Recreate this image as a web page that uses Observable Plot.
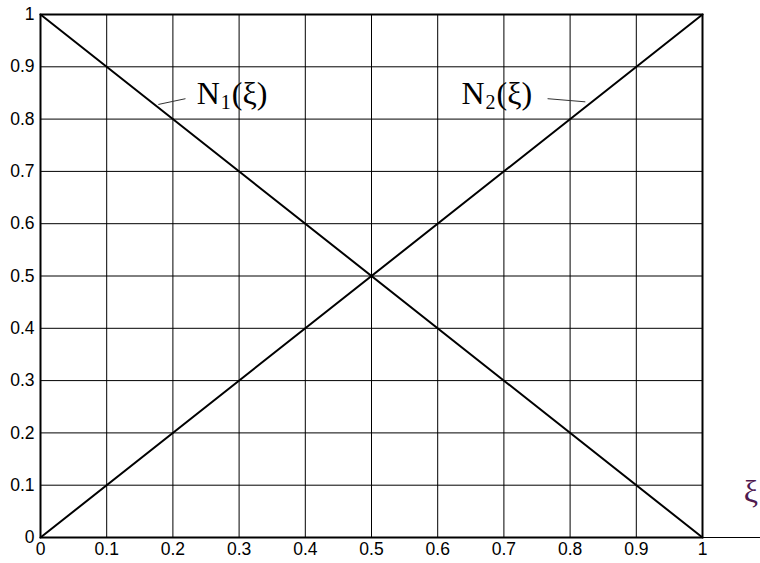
<!DOCTYPE html>
<html>
<head>
<meta charset="utf-8">
<script src="https://cdn.jsdelivr.net/npm/d3@7"></script>
<script src="https://cdn.jsdelivr.net/npm/@observablehq/plot@0.6"></script>
<style>
  html, body { margin: 0; padding: 0; background: #fff; }
  #chart svg { display: block; }
</style>
</head>
<body>
<div id="chart"></div>
<script>
// Linear shape functions on the reference element, xi in [0, 1]
const xi = [0, 1];
const N1 = [1, 0];           // N1(xi) = 1 - xi
const N2 = [0, 1];           // N2(xi) = xi

const tickValues = [0, 0.1, 0.2, 0.3, 0.4, 0.5, 0.6, 0.7, 0.8, 0.9, 1];
const tickLabels = ["0", "0.1", "0.2", "0.3", "0.4", "0.5", "0.6", "0.7", "0.8", "0.9", "1"];

// Curve labels: anchor point (data units) and the short leader line to the curve
const labelNames = ["N1", "N2"];
const labelSubs = ["1", "2"];
const labelX = [0.236, 0.636];
const labelY = [0.848, 0.848];
const leaderX1 = [0.178, 0.766];
const leaderY1 = [0.828, 0.839];
const leaderX2 = [0.219, 0.823];
const leaderY2 = [0.839, 0.833];

// Axis variable symbol, placed past the right end of the xi axis
const axisSymbol = "ξ";
const axisSymbolX = [1.073];
const axisSymbolY = [0.088];
const axisExtendTo = [1.0876];

const curves = xi.flatMap((x, i) => [
  {name: "N1", x, y: N1[i]},
  {name: "N2", x, y: N2[i]}
]);
const labels = labelNames.map((name, i) => ({
  name, sub: labelSubs[i], x: labelX[i], y: labelY[i],
  x1: leaderX1[i], y1: leaderY1[i], x2: leaderX2[i], y2: leaderY2[i]
}));

const serif = "'Liberation Serif', 'Times New Roman', serif";

const chart = Plot.plot({
  width: 760,
  height: 563,
  marginLeft: 40,
  marginRight: 58,
  marginTop: 14,
  marginBottom: 26,
  style: {fontFamily: "'Liberation Sans', Arial, sans-serif", fontSize: "17px", background: "#fff", overflow: "visible"},
  x: {domain: [0, 1]},
  y: {domain: [0, 1]},
  marks: [
    Plot.ruleX(tickValues.slice(1, -1), {stroke: "#000", strokeWidth: 1}),
    Plot.ruleY(tickValues.slice(1, -1), {stroke: "#000", strokeWidth: 1}),
    Plot.ruleY([0], {x1: 1, x2: axisExtendTo[0], stroke: "#000", strokeWidth: 1}),
    Plot.frame({stroke: "#000", strokeWidth: 2}),
    Plot.line(curves, {x: "x", y: "y", z: "name", stroke: "#000", strokeWidth: 2}),
    Plot.link(labels, {x1: "x1", y1: "y1", x2: "x2", y2: "y2", stroke: "#333", strokeWidth: 1}),
    Plot.text(labels, {x: "x", y: "y", text: () => "N", textAnchor: "start", fontFamily: serif, fontSize: 32, fill: "#000"}),
    Plot.text(labels, {x: "x", y: "y", text: "sub", textAnchor: "start", dx: 24, dy: 9, fontFamily: serif, fontSize: 20, fill: "#000"}),
    Plot.text(labels, {x: "x", y: "y", text: () => "(ξ)", textAnchor: "start", dx: 35, fontFamily: serif, fontSize: 32, fill: "#000"}),
    Plot.text([axisSymbol], {x: axisSymbolX, y: axisSymbolY, text: d => d, fontFamily: serif, fontSize: 32, fill: "#4f1a4f"}),
    Plot.axisX(tickValues, {tickSize: 0, tickPadding: 5, tickFormat: (d, i) => tickLabels[i], fontSize: 17.5, fill: "#000"}),
    Plot.axisY(tickValues, {tickSize: 0, tickPadding: 6, tickFormat: (d, i) => tickLabels[i], fontSize: 17.5, fill: "#000"})
  ]
});

document.getElementById("chart").append(chart);
</script>
</body>
</html>
